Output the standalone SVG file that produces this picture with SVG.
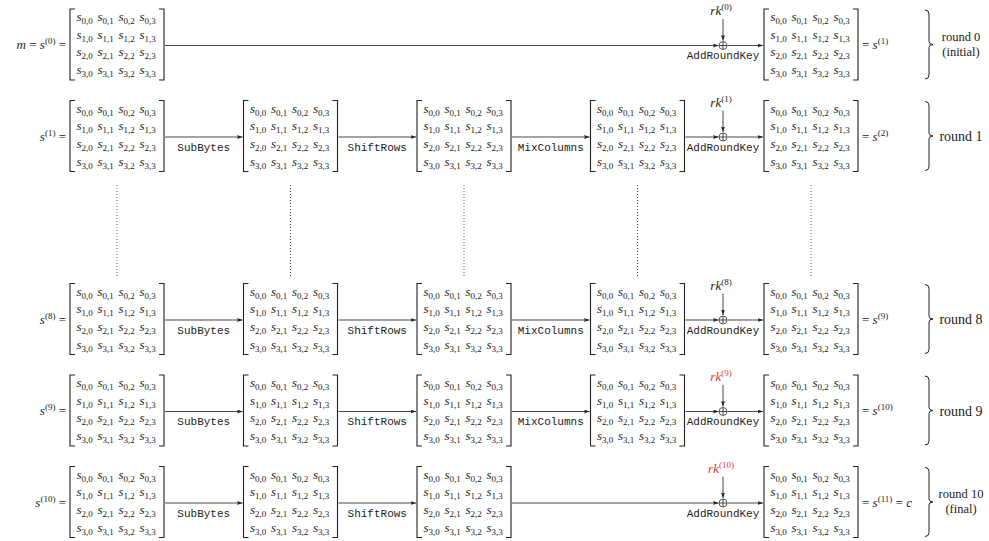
<svg xmlns="http://www.w3.org/2000/svg" xmlns:xlink="http://www.w3.org/1999/xlink" width="989" height="541" viewBox="0 0 989 541">
<style>
.e{font-family:"Liberation Serif",serif;font-size:13px;font-style:italic;fill:#222}
.sb{font-size:9px;font-style:normal}
.m{font-family:"Liberation Serif",serif;font-size:13px;fill:#222}
.i{font-style:italic}
.sup{font-size:9px;font-style:normal}
.red{fill:#e8373a}
.tt{font-family:"Liberation Mono",monospace;font-size:11px;fill:#222;text-anchor:middle}
.rd{font-family:"Liberation Serif",serif;font-size:14px;fill:#222;text-anchor:middle}
.rd2{font-family:"Liberation Serif",serif;font-size:12.5px;fill:#222;text-anchor:middle}
.ln{stroke:#333;stroke-width:0.9;fill:none}
.ar{stroke:#333;stroke-width:0.9;fill:none;marker-end:url(#ah)}
.dot{stroke:#444;stroke-width:0.9;fill:none;stroke-dasharray:1 2}
.br{stroke:#222;stroke-width:1;fill:none}
.op{stroke:#333;stroke-width:0.8;fill:#fff}
</style>
<defs>
<marker id="ah" viewBox="0 0 6 4" refX="5.5" refY="2" markerWidth="6" markerHeight="4" orient="auto" markerUnits="userSpaceOnUse"><path d="M0,0 L5.5,2 L0,4 L1,2 z" fill="#222"/></marker>
<g id="mat">
<path d="M5,0H0V71H5M89,0H94V71H89" fill="none" stroke="#222" stroke-width="1.1"/>
<text class="e" x="6.5" y="12">s<tspan class="sb" dy="3">0,0</tspan></text>
<text class="e" x="27.5" y="12">s<tspan class="sb" dy="3">0,1</tspan></text>
<text class="e" x="48.5" y="12">s<tspan class="sb" dy="3">0,2</tspan></text>
<text class="e" x="69.5" y="12">s<tspan class="sb" dy="3">0,3</tspan></text>
<text class="e" x="6.5" y="29.7">s<tspan class="sb" dy="3">1,0</tspan></text>
<text class="e" x="27.5" y="29.7">s<tspan class="sb" dy="3">1,1</tspan></text>
<text class="e" x="48.5" y="29.7">s<tspan class="sb" dy="3">1,2</tspan></text>
<text class="e" x="69.5" y="29.7">s<tspan class="sb" dy="3">1,3</tspan></text>
<text class="e" x="6.5" y="47.3">s<tspan class="sb" dy="3">2,0</tspan></text>
<text class="e" x="27.5" y="47.3">s<tspan class="sb" dy="3">2,1</tspan></text>
<text class="e" x="48.5" y="47.3">s<tspan class="sb" dy="3">2,2</tspan></text>
<text class="e" x="69.5" y="47.3">s<tspan class="sb" dy="3">2,3</tspan></text>
<text class="e" x="6.5" y="65">s<tspan class="sb" dy="3">3,0</tspan></text>
<text class="e" x="27.5" y="65">s<tspan class="sb" dy="3">3,1</tspan></text>
<text class="e" x="48.5" y="65">s<tspan class="sb" dy="3">3,2</tspan></text>
<text class="e" x="69.5" y="65">s<tspan class="sb" dy="3">3,3</tspan></text>
</g>
<g id="oplus"><circle class="op" cx="0" cy="0" r="4"/><path class="ln" d="M-4,0H4M0,-4V4" stroke-width="0.8"/></g>
</defs>

<!-- connectors -->
<g id="connectors">
<!-- row 0 -->
<line class="ar" x1="165" y1="45.5" x2="718.5" y2="45.5"/>
<line class="ar" x1="723" y1="19" x2="723" y2="40.5"/>
<line class="ar" x1="727.5" y1="45.5" x2="763" y2="45.5"/>
<!-- row 1 -->
<line class="ar" x1="165" y1="137" x2="242.5" y2="137"/>
<line class="ar" x1="338.5" y1="137" x2="416" y2="137"/>
<line class="ar" x1="512" y1="137" x2="589.5" y2="137"/>
<line class="ar" x1="685.5" y1="137" x2="718.5" y2="137"/>
<line class="ar" x1="723" y1="110.5" x2="723" y2="132"/>
<line class="ar" x1="727.5" y1="137" x2="763" y2="137"/>
<!-- dotted -->
<line class="dot" x1="117" y1="185" x2="117" y2="276"/>
<line class="dot" x1="290.5" y1="185" x2="290.5" y2="276"/>
<line class="dot" x1="464" y1="185" x2="464" y2="276"/>
<line class="dot" x1="637.5" y1="185" x2="637.5" y2="276"/>
<line class="dot" x1="811" y1="185" x2="811" y2="276"/>
<!-- row 8 -->
<line class="ar" x1="165" y1="320" x2="242.5" y2="320"/>
<line class="ar" x1="338.5" y1="320" x2="416" y2="320"/>
<line class="ar" x1="512" y1="320" x2="589.5" y2="320"/>
<line class="ar" x1="685.5" y1="320" x2="718.5" y2="320"/>
<line class="ar" x1="723" y1="293.5" x2="723" y2="315"/>
<line class="ar" x1="727.5" y1="320" x2="763" y2="320"/>
<!-- row 9 -->
<line class="ar" x1="165" y1="411.5" x2="242.5" y2="411.5"/>
<line class="ar" x1="338.5" y1="411.5" x2="416" y2="411.5"/>
<line class="ar" x1="512" y1="411.5" x2="589.5" y2="411.5"/>
<line class="ar" x1="685.5" y1="411.5" x2="718.5" y2="411.5"/>
<line class="ar" x1="723" y1="385" x2="723" y2="406.5"/>
<line class="ar" x1="727.5" y1="411.5" x2="763" y2="411.5"/>
<!-- row 10 -->
<line class="ar" x1="165" y1="503" x2="242.5" y2="503"/>
<line class="ar" x1="338.5" y1="503" x2="416" y2="503"/>
<line class="ar" x1="512" y1="503" x2="718.5" y2="503"/>
<line class="ar" x1="723" y1="476.5" x2="723" y2="498"/>
<line class="ar" x1="727.5" y1="503" x2="763" y2="503"/>
<!-- operation labels -->
<text class="tt" x="723" y="59">AddRoundKey</text>
<text class="tt" x="203.75" y="150.5">SubBytes</text>
<text class="tt" x="377.25" y="150.5">ShiftRows</text>
<text class="tt" x="550.75" y="150.5">MixColumns</text>
<text class="tt" x="723" y="150.5">AddRoundKey</text>
<text class="tt" x="203.75" y="333.5">SubBytes</text>
<text class="tt" x="377.25" y="333.5">ShiftRows</text>
<text class="tt" x="550.75" y="333.5">MixColumns</text>
<text class="tt" x="723" y="333.5">AddRoundKey</text>
<text class="tt" x="203.75" y="425">SubBytes</text>
<text class="tt" x="377.25" y="425">ShiftRows</text>
<text class="tt" x="550.75" y="425">MixColumns</text>
<text class="tt" x="723" y="425">AddRoundKey</text>
<text class="tt" x="203.75" y="516.5">SubBytes</text>
<text class="tt" x="377.25" y="516.5">ShiftRows</text>
<text class="tt" x="723" y="516.5">AddRoundKey</text>
</g>

<!-- round 0 -->
<g id="round0">
<text class="m" x="66" y="49" text-anchor="end"><tspan class="i">m</tspan> = <tspan class="i">s</tspan><tspan class="sup" dy="-5">(0)</tspan><tspan dy="5"> =</tspan></text>
<use xlink:href="#mat" x="70" y="9"/>
<g id="xor0"><use xlink:href="#oplus" x="723" y="45.5"/>
<text class="m" x="721" y="15" text-anchor="middle"><tspan class="i">rk</tspan><tspan class="sup" dy="-5">(0)</tspan></text></g>
<use xlink:href="#mat" x="764" y="9"/>
<text class="m" x="862" y="49">= <tspan class="i">s</tspan><tspan class="sup" dy="-5">(1)</tspan></text>
<path class="br" d="M925,10 Q929,10 929,14 V41.5 Q929,44.5 933,44.5 Q929,44.5 929,47.5 V75 Q929,79 925,79"/>
<text class="rd2" x="961" y="41">round 0</text>
<text class="rd2" x="961" y="55.5">(initial)</text>
</g>

<!-- round 1 -->
<g id="round1">
<text class="m" x="66" y="140.5" text-anchor="end"><tspan class="i">s</tspan><tspan class="sup" dy="-5">(1)</tspan><tspan dy="5"> =</tspan></text>
<use xlink:href="#mat" x="70" y="100.5"/>
<use xlink:href="#mat" x="243.5" y="100.5"/>
<use xlink:href="#mat" x="417" y="100.5"/>
<use xlink:href="#mat" x="590.5" y="100.5"/>
<g id="xor1"><use xlink:href="#oplus" x="723" y="137"/>
<text class="m" x="721" y="106.5" text-anchor="middle"><tspan class="i">rk</tspan><tspan class="sup" dy="-5">(1)</tspan></text></g>
<use xlink:href="#mat" x="764" y="100.5"/>
<text class="m" x="862" y="140.5">= <tspan class="i">s</tspan><tspan class="sup" dy="-5">(2)</tspan></text>
<path class="br" d="M925,101.5 Q929,101.5 929,105.5 V133 Q929,136 933,136 Q929,136 929,139 V166.5 Q929,170.5 925,170.5"/>
<text class="rd" x="961" y="141">round 1</text>
</g>

<!-- round 8 -->
<g id="round8">
<text class="m" x="66" y="323.5" text-anchor="end"><tspan class="i">s</tspan><tspan class="sup" dy="-5">(8)</tspan><tspan dy="5"> =</tspan></text>
<use xlink:href="#mat" x="70" y="283.5"/>
<use xlink:href="#mat" x="243.5" y="283.5"/>
<use xlink:href="#mat" x="417" y="283.5"/>
<use xlink:href="#mat" x="590.5" y="283.5"/>
<g id="xor8"><use xlink:href="#oplus" x="723" y="320"/>
<text class="m" x="721" y="289.5" text-anchor="middle"><tspan class="i">rk</tspan><tspan class="sup" dy="-5">(8)</tspan></text></g>
<use xlink:href="#mat" x="764" y="283.5"/>
<text class="m" x="862" y="323.5">= <tspan class="i">s</tspan><tspan class="sup" dy="-5">(9)</tspan></text>
<path class="br" d="M925,284.5 Q929,284.5 929,288.5 V316 Q929,319 933,319 Q929,319 929,322 V349.5 Q929,353.5 925,353.5"/>
<text class="rd" x="961" y="324">round 8</text>
</g>

<!-- round 9 -->
<g id="round9">
<text class="m" x="66" y="415" text-anchor="end"><tspan class="i">s</tspan><tspan class="sup" dy="-5">(9)</tspan><tspan dy="5"> =</tspan></text>
<use xlink:href="#mat" x="70" y="375"/>
<use xlink:href="#mat" x="243.5" y="375"/>
<use xlink:href="#mat" x="417" y="375"/>
<use xlink:href="#mat" x="590.5" y="375"/>
<g id="xor9"><use xlink:href="#oplus" x="723" y="411.5"/>
<text class="m red" x="721" y="381" text-anchor="middle"><tspan class="i">rk</tspan><tspan class="sup" dy="-5">(9)</tspan></text></g>
<use xlink:href="#mat" x="764" y="375"/>
<text class="m" x="862" y="415">= <tspan class="i">s</tspan><tspan class="sup" dy="-5">(10)</tspan></text>
<path class="br" d="M925,376 Q929,376 929,380 V407.5 Q929,410.5 933,410.5 Q929,410.5 929,413.5 V441 Q929,445 925,445"/>
<text class="rd" x="961" y="415.5">round 9</text>
</g>

<!-- round 10 -->
<g id="round10">
<text class="m" x="66" y="506.5" text-anchor="end"><tspan class="i">s</tspan><tspan class="sup" dy="-5">(10)</tspan><tspan dy="5"> =</tspan></text>
<use xlink:href="#mat" x="70" y="466.5"/>
<use xlink:href="#mat" x="243.5" y="466.5"/>
<use xlink:href="#mat" x="417" y="466.5"/>
<g id="xor10"><use xlink:href="#oplus" x="723" y="503"/>
<text class="m red" x="721" y="472.5" text-anchor="middle"><tspan class="i">rk</tspan><tspan class="sup" dy="-5">(10)</tspan></text></g>
<use xlink:href="#mat" x="764" y="466.5"/>
<text class="m" x="862" y="506.5">= <tspan class="i">s</tspan><tspan class="sup" dy="-5">(11)</tspan><tspan dy="5"> = </tspan><tspan class="i">c</tspan></text>
<path class="br" d="M925,467.5 Q929,467.5 929,471.5 V499 Q929,502 933,502 Q929,502 929,505 V532.5 Q929,536.5 925,536.5"/>
<text class="rd2" x="961" y="498">round 10</text>
<text class="rd2" x="961" y="512.5">(final)</text>
</g>
</svg>
